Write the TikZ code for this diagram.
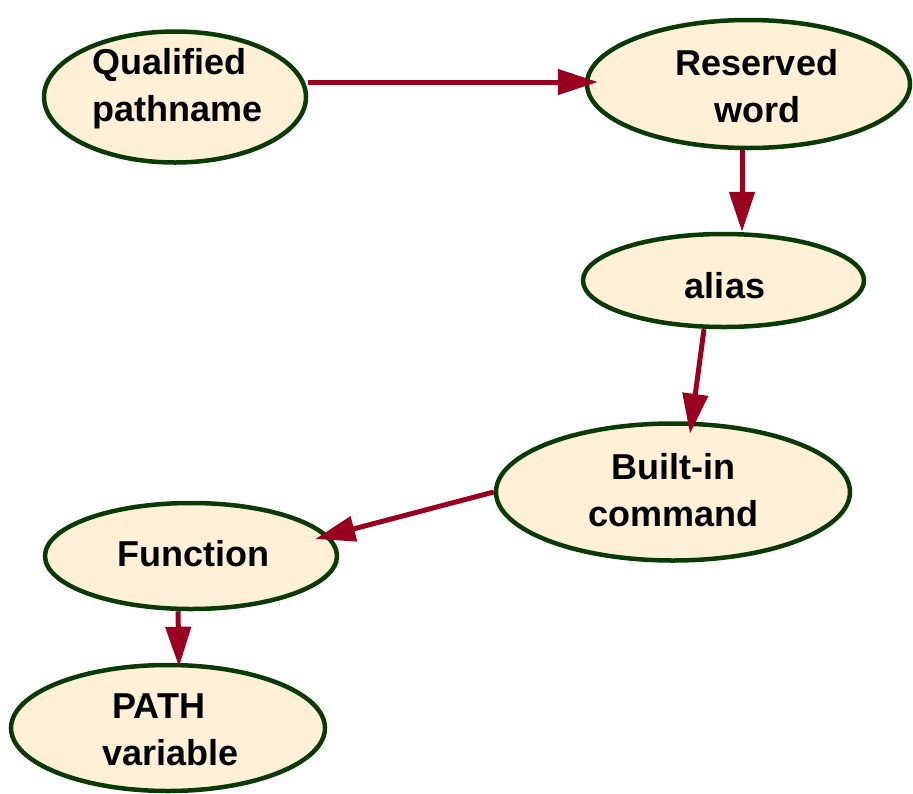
\documentclass[tikz,border=0pt]{standalone}
\usepackage{fontspec}
\setmainfont{Liberation Sans}
\usetikzlibrary{shapes.geometric,arrows.meta}
\definecolor{nodefill}{HTML}{FDF0D6}
\definecolor{nodeline}{HTML}{0A3A05}
\definecolor{arrowred}{HTML}{990020}
\begin{document}
\begin{tikzpicture}[x=1pt,y=-1pt,
  ell/.style={ellipse, draw=nodeline, fill=nodefill, line width=4.5pt, inner sep=0pt},
  txt/.style={font=\bfseries\fontsize{36}{47}\selectfont, align=center, inner sep=0pt, text=black},
  arr/.style={draw=arrowred, line width=5pt, -{Triangle[length=40pt,width=25pt]}}]
\useasboundingbox (0,0) rectangle (913,793);
% ellipses
\node[ell, minimum width=262pt, minimum height=131pt] (q) at (175,97) {};
\node[ell, minimum width=323pt, minimum height=128pt] (r) at (748.5,84) {};
\node[ell, minimum width=281pt, minimum height=93pt] (a) at (723.5,280.5) {};
\node[ell, minimum width=354pt, minimum height=137pt] (b) at (673,492) {};
\node[ell, minimum width=292pt, minimum height=106pt] (f) at (191,556) {};
\node[ell, minimum width=314pt, minimum height=126pt] (p) at (168,728) {};
% texts
\node[txt, align=left] (qt) at (177.5,89) {Qualified\\pathname};
\node[txt] (rt) at (757,86) {Reserved\\word};
\node[txt] (at) at (725,286) {alias};
\node[txt] (bt) at (673.5,490) {Built-in\\command};
\node[txt] (ft) at (193,554) {Function};
\node[txt, align=left] (pt) at (170.5,730) {\hspace*{10pt}PATH\\variable};
% connectors
\draw[arr] ([yshift=15pt]q.east) -- ([shift={(13pt,2pt)}]r.west);
\draw[arr] ([xshift=-6.5pt]r.south) -- ([xshift=18.5pt]a.north);
\draw[arr] ([xshift=-19.5pt]a.south) -- ([shift={(17pt,-12.5pt)}]b.north);
\draw[arr] (b.west) -- ([shift={(-24pt,17pt)}]f.east);
\draw[arr] ([xshift=-13pt]f.south) -- ([shift={(11pt,-4pt)}]p.north);
\end{tikzpicture}
\end{document}
